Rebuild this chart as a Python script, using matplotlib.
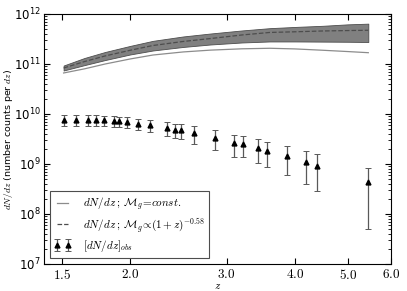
import numpy as np
import matplotlib
matplotlib.use("Agg")
import matplotlib.pyplot as plt
from matplotlib.ticker import FixedLocator, FixedFormatter, NullLocator

plt.rcParams['mathtext.fontset'] = 'cm'

# model curves (dN/dz)
z_mod = [1.51, 1.65, 1.8, 2.0, 2.2, 2.5, 2.8, 3.2, 3.6, 4.0, 4.5, 5.0, 5.45]
const_m = [6.6e10, 8.0e10, 1.0e11, 1.26e11, 1.51e11, 1.74e11, 1.89e11, 2.01e11,
           2.06e11, 2.0e11, 1.88e11, 1.77e11, 1.68e11]
evol_mid = [8.3e10, 1.12e11, 1.45e11, 1.88e11, 2.34e11, 2.82e11, 3.22e11, 3.8e11,
            4.27e11, 4.4e11, 4.57e11, 4.66e11, 4.72e11]
evol_lo = [7.4e10, 9.5e10, 1.2e11, 1.55e11, 1.86e11, 2.19e11, 2.45e11, 2.69e11,
           2.82e11, 2.82e11, 2.8e11, 2.78e11, 2.75e11]
evol_hi = [9.3e10, 1.32e11, 1.74e11, 2.3e11, 2.9e11, 3.55e11, 4.06e11, 4.68e11,
           5.2e11, 5.5e11, 5.8e11, 6.2e11, 6.4e11]

# observed
z_obs = [1.513, 1.59, 1.67, 1.73, 1.79, 1.87, 1.91, 1.97, 2.07, 2.17, 2.33, 2.41,
         2.48, 2.62, 2.86, 3.09, 3.21, 3.42, 3.55, 3.87, 4.19, 4.39, 5.45]
dndz_obs = [7.6e9, 7.6e9, 7.6e9, 7.6e9, 7.4e9, 7.2e9, 7.1e9, 6.9e9, 6.4e9, 5.9e9,
            5.2e9, 4.85e9, 4.7e9, 4.15e9, 3.3e9, 2.6e9, 2.5e9, 2.1e9, 1.8e9,
            1.45e9, 1.1e9, 0.92e9, 0.44e9]
dndz_err = [1.75e9, 1.75e9, 1.8e9, 1.8e9, 1.75e9, 1.7e9, 1.7e9, 1.7e9, 1.65e9, 1.6e9,
            1.55e9, 1.5e9, 1.5e9, 1.6e9, 1.4e9, 1.2e9, 1.15e9, 1.05e9, 0.95e9,
            0.85e9, 0.7e9, 0.63e9, 0.39e9]

xticks = [1.5, 2.0, 3.0, 4.0, 5.0, 6.0]

fig = plt.figure(figsize=(4.07, 2.91), dpi=100)
ax = fig.add_axes([0.108, 0.093, 0.853, 0.859])

ax.fill_between(z_mod, evol_lo, evol_hi, facecolor='0.5', edgecolor='0.3', lw=0.6)
ax.plot(z_mod, const_m, '-', color='0.55', lw=0.9,
        label=r'$dN/dz\;;\,\mathcal{M}_g\!=\!const.$')
ax.plot(z_mod, evol_mid, '--', color='0.3', lw=0.9,
        label=r'$dN/dz\;;\,\mathcal{M}_g\!\propto\!(1+z)^{-0.58}$')
ax.errorbar(z_obs, dndz_obs, yerr=dndz_err, fmt='^', color='k', ms=3.5,
            ecolor='0.35', elinewidth=0.9, capsize=2, capthick=0.7,
            label=r'$[dN/dz]_{obs}$')

ax.set_xscale('log')
ax.set_yscale('log')
ax.set_xlim(1.39, 6.0)
ax.set_ylim(1e7, 1e12)
ax.xaxis.set_major_locator(FixedLocator(xticks))
ax.xaxis.set_major_formatter(FixedFormatter([r'$%.1f$' % t for t in xticks]))
ax.xaxis.set_minor_locator(NullLocator())
ax.tick_params(which='both', direction='in', top=True, right=True)
ax.tick_params(axis='x', labelsize=9.5, pad=3)
ax.tick_params(axis='y', labelsize=8.5, pad=2.5)
ax.tick_params(which='major', length=4)
ax.tick_params(which='minor', length=2)
for s in ax.spines.values():
    s.set_linewidth(0.8)

ax.set_xlabel(r'$z$', fontsize=8, labelpad=-1)
ax.set_ylabel(r'$dN/dz$ (number counts per $dz$)', fontsize=6.8)
ax.yaxis.set_label_coords(-0.084, 0.5)

leg = ax.legend(loc='lower left', fontsize=8, numpoints=2, fancybox=False,
                handlelength=1.6, handletextpad=1.0, labelspacing=0.3,
                borderpad=0.4, borderaxespad=0.5, framealpha=1)
leg.get_frame().set_edgecolor('0.3')
leg.get_frame().set_linewidth(0.8)

fig.savefig('out.png', dpi=100)
